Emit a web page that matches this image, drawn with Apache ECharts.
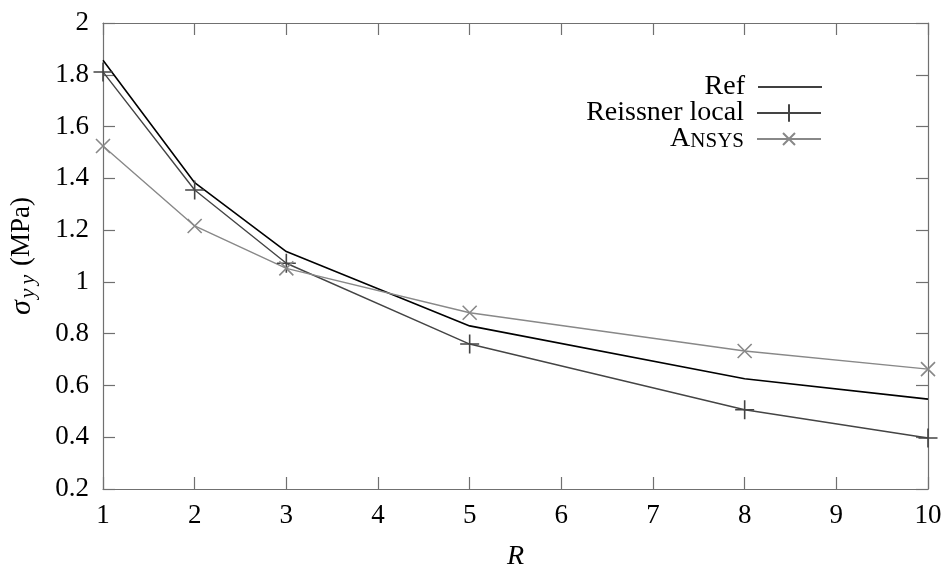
<!DOCTYPE html>
<html><head><meta charset="utf-8">
<script src="https://cdn.jsdelivr.net/npm/echarts@6/dist/echarts.min.js"></script>
<style>html,body{margin:0;padding:0;background:#fff}#c{width:943px;height:566px}</style>
</head><body><div id="c"></div>
<script>
const xValues = [1, 2, 3, 5, 8, 10];
const refValues = [1.856, 1.383, 1.117, 0.830, 0.626, 0.547];
const reissnerValues = [1.811, 1.355, 1.072, 0.760, 0.506, 0.397];
const ansysValues = [1.525, 1.216, 1.052, 0.881, 0.733, 0.663];
const seriesNames = ['Ref', 'Reissner local', 'ANSYS'];
const xTicks = [1,2,3,4,5,6,7,8,9,10];
const yTicks = [0.2,0.4,0.6,0.8,1,1.2,1.4,1.6,1.8,2];

const FONT = '"Liberation Serif", "Times New Roman", "DejaVu Serif", serif';
const AX = '#707070';
const pair = (xs, ys) => xs.map((x, i) => [x, ys[i]]);
const PLUS = 'path://M0,10L20,10M10,0L10,20';
const CROSS = 'path://M0,0L20,20M20,0L0,20';

const chart = echarts.init(document.getElementById('c'), null, {renderer: 'canvas'});
const axisCommon = {
  axisLine: {show: true, lineStyle: {color: AX, width: 1.2}},
  axisTick: {show: true, inside: true, length: 12, lineStyle: {color: AX, width: 1.2}},
  splitLine: {show: false}
};
const legendText = {
  fontFamily: FONT, fontSize: 28, color: '#000', padding: [0, 8, 0, 0],
  rich: {a: {fontFamily: FONT, fontSize: 28, color: '#000', verticalAlign: 'bottom'},
         b: {fontFamily: FONT, fontSize: 21, color: '#000', verticalAlign: 'bottom', padding: [0, 0, 1, 0]}}
};
const mkLegend = (name, top, extra) => Object.assign({
  data: [name], right: 121, top: top, orient: 'vertical', align: 'right',
  itemWidth: 64, itemHeight: 18, itemGap: 0, padding: 0,
  textStyle: legendText,
  formatter: n => n === 'ANSYS' ? '{a|A}{b|NSYS}' : n,
  selectedMode: false
}, extra || {});
const lab = {fontFamily: FONT, fontSize: 27, color: '#000'};
const subStyle = {fontFamily: FONT, fontSize: 22, fontStyle: 'italic', color: '#000', verticalAlign: 'bottom', padding: [12, 2, 0, 2]};
chart.setOption({
  animation: false,
  backgroundColor: '#fff',
  textStyle: {fontFamily: FONT},
  grid: {left: 103, right: 15, top: 23, bottom: 77, containLabel: false, outerBoundsMode: 'none'},
  legend: [mkLegend('Ref', 73, {data: [{name: 'Ref', icon: 'rect'}], itemHeight: 1.6, itemStyle: {color: '#000'}}),
           mkLegend('Reissner local', 99, {itemHeight: 22}), mkLegend('ANSYS', 125, {itemHeight: 15})],
  xAxis: [
    Object.assign({type: 'value', min: 1, max: 10, interval: 1, position: 'bottom',
      name: 'R', nameLocation: 'middle', nameGap: 54,
      nameTextStyle: {fontFamily: FONT, fontSize: 28, fontStyle: 'italic', color: '#000'},
      axisLabel: Object.assign({margin: 13, formatter: v => xTicks.includes(v) ? String(v) : ''}, lab)}, axisCommon),
    Object.assign({type: 'value', min: 1, max: 10, interval: 1, position: 'top',
      axisLabel: {show: false}}, axisCommon)
  ],
  yAxis: [
    Object.assign({type: 'value', min: 0.2, max: 2, interval: 0.2, position: 'left',
      name: '{s|σ}{sub|y}{sub|y} {m|(MPa)}', nameLocation: 'middle', nameGap: 64, nameRotate: 90,
      nameTextStyle: {fontFamily: FONT, fontSize: 27, color: '#000',
        rich: {s: {fontFamily: FONT, fontSize: 30, fontStyle: 'italic', color: '#000'},
               sub: subStyle,
               m: {fontFamily: FONT, fontSize: 27, color: '#000'}}},
      axisLabel: Object.assign({margin: 14,
        formatter: v => { const t = yTicks.find(y => Math.abs(y - v) < 1e-6); return t === undefined ? '' : String(t); }}, lab)}, axisCommon),
    Object.assign({type: 'value', min: 0.2, max: 2, interval: 0.2, position: 'right',
      axisLabel: {show: false}}, axisCommon)
  ],
  series: [
    {name: seriesNames[0], type: 'line', data: pair(xValues, refValues), symbol: 'none',
      lineStyle: {color: '#000', width: 1.6}, itemStyle: {color: '#000'}},
    {name: seriesNames[1], type: 'line', data: pair(xValues, reissnerValues), symbol: PLUS, symbolSize: 19,
      lineStyle: {color: '#444', width: 1.4},
      itemStyle: {color: 'rgba(0,0,0,0)', borderColor: '#444', borderWidth: 1.6}},
    {name: seriesNames[2], type: 'line', data: pair(xValues, ansysValues), symbol: CROSS, symbolSize: 14,
      lineStyle: {color: '#888', width: 1.4},
      itemStyle: {color: 'rgba(0,0,0,0)', borderColor: '#888', borderWidth: 1.6}}
  ]
});
</script></body></html>
